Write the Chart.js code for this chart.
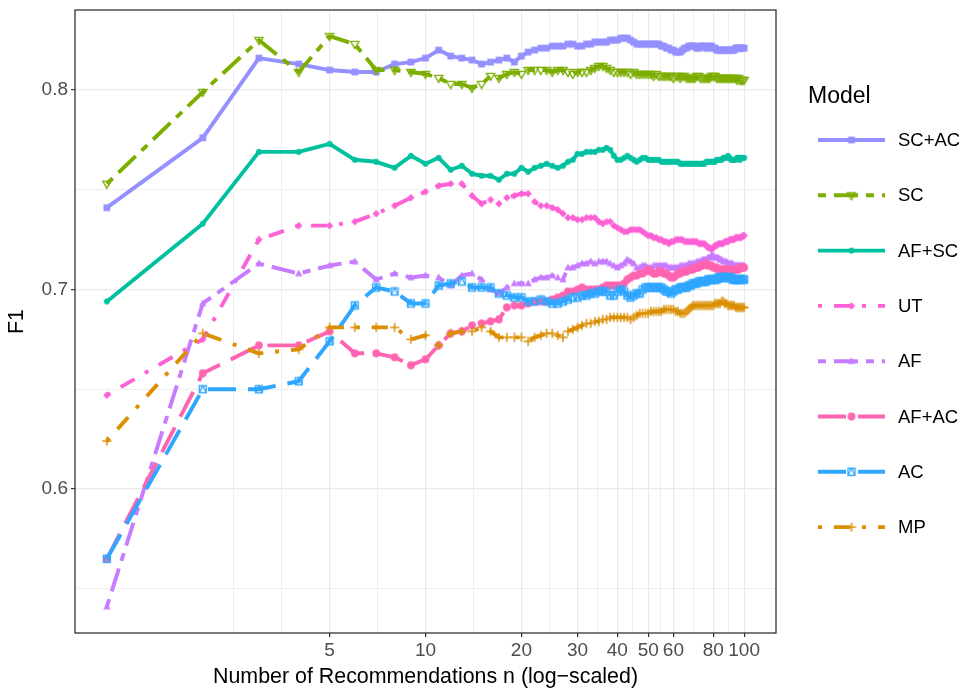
<!DOCTYPE html>
<html>
<head>
<meta charset="utf-8">
<title>F1 by number of recommendations</title>
<script src="https://cdn.jsdelivr.net/npm/chart.js@4.4.1/dist/chart.umd.min.js"></script>
<style>
  html, body { margin: 0; padding: 0; background: #fff; }
  #wrap { width: 963px; height: 688px; }
</style>
</head>
<body>
<div id="wrap"><canvas id="chart" width="963" height="688"></canvas></div>
<script>
// number of recommendations n (x, log scale)
const nRecs = [1,2,3,4,5,6,7,8,9,10,11,12,13,14,15,16,17,18,19,20,
  21,22,23,24,25,26,27,28,29,30,31,32,33,34,35,36,37,38,39,40,
  41,42,43,44,45,46,47,48,49,50,51,52,53,54,55,56,57,58,59,60,
  61,62,63,64,65,66,67,68,69,70,71,72,73,74,75,76,77,78,79,80,
  81,82,83,84,85,86,87,88,89,90,91,92,93,94,95,96,97,98,99,100];

const modelNames = ["SC+AC", "SC", "AF+SC", "UT", "AF", "AF+AC", "AC", "MP"];

// F1 per model, one value per n
const scAc = [0.741,0.776,0.816,0.813,0.810,0.809,0.809,0.813,0.814,0.816, 0.820,0.817,0.816,0.815,0.813,0.814,0.815,0.816,0.814,0.817,
  0.819,0.820,0.821,0.821,0.822,0.822,0.822,0.823,0.823,0.822, 0.822,0.823,0.823,0.824,0.824,0.824,0.824,0.825,0.825,0.825,
  0.826,0.826,0.826,0.825,0.824,0.823,0.823,0.823,0.823,0.823, 0.823,0.823,0.823,0.823,0.822,0.822,0.821,0.821,0.820,0.820,
  0.819,0.819,0.819,0.820,0.821,0.821,0.822,0.822,0.822,0.822, 0.821,0.821,0.822,0.822,0.822,0.821,0.821,0.822,0.822,0.821,
  0.821,0.820,0.820,0.820,0.820,0.820,0.820,0.820,0.820,0.820, 0.820,0.820,0.820,0.821,0.821,0.821,0.821,0.821,0.821,0.821];
const sc = [0.753,0.799,0.825,0.809,0.827,0.823,0.810,0.810,0.809,0.808, 0.806,0.803,0.803,0.801,0.803,0.807,0.806,0.808,0.809,0.808,
  0.810,0.810,0.810,0.810,0.809,0.810,0.810,0.809,0.808,0.809, 0.809,0.809,0.810,0.811,0.812,0.812,0.811,0.810,0.809,0.809,
  0.809,0.809,0.809,0.808,0.809,0.808,0.808,0.808,0.808,0.808, 0.808,0.807,0.808,0.807,0.807,0.807,0.807,0.807,0.807,0.806,
  0.807,0.807,0.806,0.807,0.807,0.806,0.806,0.806,0.806,0.806, 0.807,0.807,0.806,0.806,0.806,0.806,0.806,0.806,0.807,0.807,
  0.807,0.806,0.806,0.806,0.806,0.806,0.806,0.806,0.806,0.806, 0.806,0.806,0.806,0.806,0.805,0.806,0.805,0.805,0.805,0.805];
const afSc = [0.694,0.733,0.769,0.769,0.773,0.765,0.764,0.761,0.767,0.763, 0.766,0.760,0.762,0.758,0.757,0.757,0.755,0.758,0.758,0.761,
  0.759,0.761,0.762,0.763,0.762,0.761,0.762,0.764,0.765,0.768, 0.768,0.769,0.769,0.769,0.770,0.770,0.771,0.770,0.767,0.765,
  0.765,0.766,0.767,0.766,0.765,0.764,0.765,0.766,0.766,0.765, 0.765,0.765,0.765,0.765,0.764,0.764,0.764,0.764,0.764,0.764,
  0.764,0.764,0.763,0.763,0.763,0.763,0.763,0.763,0.763,0.763, 0.763,0.763,0.763,0.763,0.763,0.764,0.764,0.764,0.764,0.764,
  0.764,0.765,0.765,0.765,0.765,0.766,0.766,0.766,0.767,0.766, 0.765,0.765,0.765,0.765,0.766,0.766,0.765,0.766,0.766,0.766];
const ut = [0.647,0.675,0.725,0.732,0.732,0.734,0.738,0.742,0.746,0.749, 0.752,0.753,0.753,0.747,0.743,0.745,0.743,0.746,0.747,0.748,
  0.748,0.744,0.742,0.742,0.741,0.740,0.738,0.736,0.736,0.735, 0.735,0.736,0.736,0.736,0.734,0.733,0.734,0.734,0.732,0.731,
  0.730,0.729,0.729,0.730,0.730,0.730,0.730,0.729,0.728,0.727, 0.727,0.726,0.726,0.725,0.725,0.724,0.724,0.723,0.724,0.724,
  0.725,0.725,0.725,0.725,0.724,0.724,0.724,0.724,0.724,0.724, 0.724,0.723,0.723,0.723,0.723,0.722,0.721,0.721,0.720,0.721,
  0.722,0.722,0.723,0.723,0.723,0.723,0.724,0.724,0.724,0.725, 0.725,0.725,0.725,0.726,0.726,0.726,0.726,0.726,0.727,0.727];
const af = [0.541,0.693,0.713,0.708,0.712,0.714,0.705,0.708,0.706,0.707, 0.706,0.702,0.707,0.708,0.705,0.700,0.698,0.701,0.703,0.703,
  0.703,0.705,0.706,0.706,0.707,0.706,0.705,0.711,0.711,0.712, 0.713,0.713,0.714,0.713,0.714,0.714,0.714,0.713,0.712,0.711,
  0.712,0.713,0.715,0.714,0.713,0.711,0.711,0.712,0.712,0.711, 0.711,0.712,0.712,0.712,0.712,0.712,0.712,0.711,0.711,0.711,
  0.711,0.711,0.712,0.712,0.712,0.712,0.713,0.713,0.713,0.713, 0.714,0.714,0.714,0.715,0.715,0.715,0.716,0.716,0.717,0.717,
  0.716,0.716,0.716,0.715,0.715,0.714,0.714,0.714,0.713,0.713, 0.713,0.713,0.712,0.712,0.712,0.712,0.712,0.712,0.712,0.712];
const afAc = [0.565,0.658,0.672,0.672,0.679,0.668,0.668,0.666,0.662,0.665, 0.672,0.678,0.679,0.682,0.683,0.684,0.685,0.691,0.692,0.692,
  0.693,0.694,0.694,0.694,0.695,0.696,0.697,0.699,0.699,0.700, 0.701,0.700,0.700,0.700,0.700,0.701,0.702,0.702,0.702,0.702,
  0.702,0.703,0.705,0.706,0.707,0.707,0.708,0.708,0.709,0.710, 0.709,0.708,0.708,0.709,0.709,0.708,0.708,0.707,0.706,0.706,
  0.707,0.708,0.708,0.709,0.709,0.709,0.710,0.710,0.710,0.711, 0.711,0.711,0.712,0.712,0.713,0.713,0.712,0.712,0.712,0.711,
  0.711,0.711,0.710,0.710,0.710,0.710,0.710,0.710,0.710,0.710, 0.710,0.710,0.710,0.710,0.710,0.710,0.711,0.711,0.711,0.711];
const ac = [0.565,0.650,0.650,0.654,0.674,0.692,0.701,0.699,0.693,0.693, 0.702,0.703,0.704,0.701,0.701,0.701,0.698,0.697,0.696,0.696,
  0.694,0.694,0.695,0.694,0.693,0.693,0.694,0.695,0.696,0.696, 0.697,0.697,0.698,0.698,0.699,0.699,0.699,0.697,0.697,0.699,
  0.700,0.699,0.697,0.696,0.697,0.698,0.698,0.700,0.701,0.701, 0.701,0.701,0.701,0.701,0.701,0.700,0.699,0.699,0.698,0.699,
  0.700,0.700,0.701,0.701,0.701,0.701,0.702,0.702,0.703,0.703, 0.703,0.704,0.704,0.704,0.704,0.704,0.705,0.705,0.705,0.705,
  0.705,0.705,0.706,0.706,0.706,0.706,0.706,0.706,0.706,0.706, 0.706,0.705,0.705,0.705,0.705,0.705,0.705,0.705,0.705,0.705];
const mp = [0.624,0.678,0.668,0.670,0.681,0.681,0.681,0.681,0.675,0.677, 0.672,0.678,0.679,0.679,0.681,0.679,0.676,0.676,0.676,0.676,
  0.674,0.676,0.677,0.678,0.678,0.677,0.676,0.679,0.680,0.681, 0.682,0.683,0.683,0.684,0.684,0.685,0.685,0.686,0.686,0.686,
  0.686,0.686,0.686,0.685,0.686,0.687,0.688,0.688,0.688,0.688, 0.689,0.689,0.689,0.689,0.689,0.690,0.690,0.690,0.690,0.690,
  0.689,0.689,0.688,0.688,0.688,0.689,0.690,0.691,0.692,0.692, 0.692,0.692,0.692,0.692,0.692,0.692,0.692,0.692,0.692,0.692,
  0.693,0.693,0.693,0.693,0.694,0.694,0.693,0.693,0.692,0.692, 0.692,0.692,0.692,0.691,0.691,0.691,0.691,0.691,0.691,0.691];

// axis breaks
const xMajorTicks = [5, 10, 20, 30, 40, 50, 60, 80, 100];
const xMinorTicks = [2.5, 3.54, 7.07, 14.1, 24.5, 34.6, 44.7, 54.8, 69.3, 89.4];
const yMajorTicks = [0.6, 0.7, 0.8];
const yMinorTicks = [0.55, 0.65, 0.75];

const seriesValues = [scAc, sc, afSc, ut, af, afAc, ac, mp];

// styles (ggplot-ish)
const colors = ["#9590FF", "#7CAE00", "#00C19F", "#FC61D5", "#C77CFF", "#FF64B0", "#2FA6FF", "#DB8E00"];
const dashes = [[], [8,8,24,8], [], [4,12,16,12], [8,8,24,8], [28,12], [28,12], [4,12,16,12]];
const shapes = ["square", "triDownOpen", "dot", "diamond", "triUp", "bigDot", "boxTri", "plus"];
const FONT = "'Liberation Sans', Arial, Helvetica, sans-serif";
const LINE_W = 3.9;

function makeMarker(kind, color) {
    let c = document.createElement("canvas");
    c.width = 14;
    c.height = 14;
    let g = c.getContext("2d");
    g.fillStyle = color;
    g.strokeStyle = color;
    g.lineWidth = 1.3;
    const m = 7;
    g.beginPath();
    if (kind == "square") {
        g.rect(m - 3.4, m - 3.4, 6.8, 6.8);
        g.fill();
    } else if (kind == "triDownOpen") {
        g.moveTo(m - 4.2, m - 2.7);
        g.lineTo(m + 4.2, m - 2.7);
        g.lineTo(m, m + 4.4);
        g.closePath();
        g.stroke();
    } else if (kind == "dot") {
        g.arc(m, m, 2.9, 0, Math.PI * 2);
        g.fill();
    } else if (kind == "diamond") {
        g.moveTo(m, m - 3.7);
        g.lineTo(m + 3.7, m);
        g.lineTo(m, m + 3.7);
        g.lineTo(m - 3.7, m);
        g.closePath();
        g.fill();
    } else if (kind == "triUp") {
        g.moveTo(m, m - 3.9);
        g.lineTo(m + 3.7, m + 2.7);
        g.lineTo(m - 3.7, m + 2.7);
        g.closePath();
        g.fill();
    } else if (kind == "bigDot") {
        g.arc(m, m, 3.9, 0, Math.PI * 2);
        g.fill();
    } else if (kind == "boxTri") {
        g.rect(m - 3.5, m - 3.5, 7, 7);
        g.moveTo(m - 3.5, m + 3.5);
        g.lineTo(m, m - 3.5);
        g.lineTo(m + 3.5, m + 3.5);
        g.stroke();
    } else if (kind == "plus") {
        g.lineWidth = 1.5;
        g.moveTo(m - 4.6, m);
        g.lineTo(m + 4.6, m);
        g.moveTo(m, m - 4.6);
        g.lineTo(m, m + 4.6);
        g.stroke();
    }
    return c;
}

const markers = shapes.map((s, i) => makeMarker(s, colors[i]));

const datasets = modelNames.map((name, i) => ({
    label: name,
    data: nRecs.map((n, j) => ({ x: n, y: seriesValues[i][j] })),
    borderColor: colors[i],
    backgroundColor: colors[i],
    borderWidth: LINE_W,
    borderDash: dashes[i],
    borderCapStyle: "butt",
    borderJoinStyle: "round",
    pointStyle: markers[i],
    pointRadius: 4,
    pointHoverRadius: 4,
    tension: 0,
    order: modelNames.length - i
}));

const isMajorX = v => xMajorTicks.includes(v);
const isMajorY = v => yMajorTicks.includes(v);

// panel border on top, ggplot theme_bw style
const borderPlugin = {
    id: "panelBorder",
    afterDatasetsDraw(chart) {
        const a = chart.chartArea;
        const g = chart.ctx;
        g.save();
        g.strokeStyle = "#333333";
        g.lineWidth = 1.3;
        g.strokeRect(a.left, a.top, a.right - a.left, a.bottom - a.top);
        g.restore();
    }
};

const legendPlugin = {
    id: "ggLegend",
    afterDraw(chart) {
        const g = chart.ctx;
        g.save();
        g.fillStyle = "#000000";
        g.textBaseline = "middle";
        g.font = `23px ${FONT}`;
        g.fillText("Model", 808, 97);
        g.font = `18.5px ${FONT}`;
        modelNames.forEach((name, i) => {
            const y = 140 + i * 55.3;
            g.strokeStyle = colors[i];
            g.lineWidth = LINE_W;
            g.lineCap = "butt";
            g.setLineDash(dashes[i]);
            g.beginPath();
            g.moveTo(818, y);
            g.lineTo(885, y);
            g.stroke();
            g.setLineDash([]);
            g.drawImage(markers[i], 851.5 - 7, y - 7);
            g.fillStyle = "#000000";
            g.fillText(name, 898, y + 1);
        });
        g.restore();
    }
};

new Chart(document.getElementById("chart"), {
    type: "line",
    data: { datasets },
    plugins: [borderPlugin, legendPlugin],
    options: {
        responsive: false,
        animation: false,
        devicePixelRatio: 1,
        layout: { padding: { top: 10, right: 187, left: 0, bottom: 0 } },
        plugins: {
            legend: { display: false },
            tooltip: { enabled: false }
        },
        scales: {
            x: {
                type: "logarithmic",
                min: 0.7943,
                max: 125.9,
                afterBuildTicks: s => {
                    s.ticks = xMinorTicks.concat(xMajorTicks).sort((a, b) => a - b).map(v => ({ value: v }));
                },
                afterFit: s => {
                    s.height = 55;
                    s.paddingLeft = 0;
                    s.paddingRight = 0;
                },
                ticks: {
                    autoSkip: false,
                    maxRotation: 0,
                    minRotation: 0,
                    padding: 2,
                    color: "#4D4D4D",
                    font: { family: FONT, size: 19 },
                    callback: v => isMajorX(v) ? String(v) : ""
                },
                grid: {
                    color: "#EBEBEB",
                    lineWidth: c => isMajorX(c.tick.value) ? 1.2 : 0.8,
                    tickLength: 4,
                    tickColor: c => isMajorX(c.tick.value) ? "#333333" : "rgba(0,0,0,0)",
                    tickWidth: 1.2
                },
                border: { display: false },
                title: {
                    display: true,
                    text: "Number of Recommendations n (log\u2212scaled)",
                    color: "#000000",
                    font: { family: FONT, size: 21.4, lineHeight: 1 },
                    padding: { top: 0, bottom: 0 }
                }
            },
            y: {
                type: "linear",
                min: 0.5278,
                max: 0.8401,
                afterBuildTicks: s => {
                    s.ticks = yMinorTicks.concat(yMajorTicks).sort((a, b) => a - b).map(v => ({ value: v }));
                },
                afterFit: s => {
                    s.width = 75;
                    s.paddingTop = 0;
                    s.paddingBottom = 0;
                },
                ticks: {
                    padding: 3,
                    color: "#4D4D4D",
                    font: { family: FONT, size: 19 },
                    callback: v => isMajorY(v) ? v.toFixed(1) : ""
                },
                grid: {
                    color: "#EBEBEB",
                    lineWidth: c => isMajorY(c.tick.value) ? 1.2 : 0.8,
                    tickLength: 4,
                    tickColor: c => isMajorY(c.tick.value) ? "#333333" : "rgba(0,0,0,0)",
                    tickWidth: 1.2
                },
                border: { display: false },
                title: {
                    display: true,
                    text: "F1",
                    color: "#000000",
                    font: { family: FONT, size: 21.4, lineHeight: 1 },
                    padding: { top: 6, bottom: 0 }
                }
            }
        }
    }
});
</script>
</body>
</html>
